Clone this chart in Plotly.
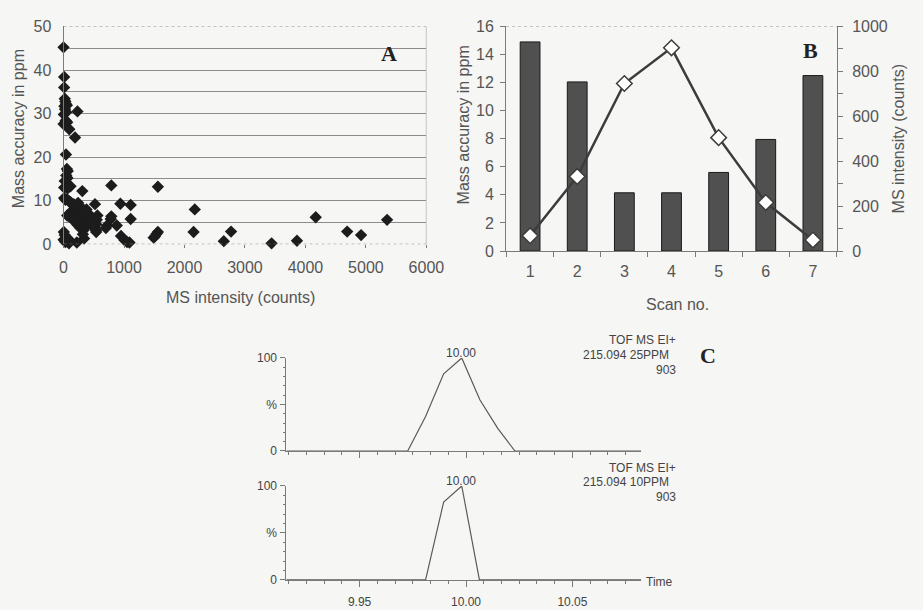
import plotly.graph_objects as go

W, H = 923, 610

# ---- Panel A: mass accuracy vs. MS intensity ----
intensity_counts = [
    0, 10, 10, 20, 30, 40, 15, 55, 25, 45, 5, 35, 60, 0, 230, 95, 190,
    40, 55, 70, 45, 65, 20, 10, 80, 115, 65, 310, 10, 30, 60, 90, 120, 170,
    790, 1560, 520, 940, 1110, 2170, 4170, 5350, 4690, 4920, 3860, 3440,
    2770, 2650, 2150, 1560, 1540, 1510, 1490, 1050, 1090, 1010, 950, 1110,
    880, 790, 780, 720, 700, 540, 540, 560, 550, 340, 320, 330, 220, 90,
    60, 40, 20, 5, 0, 110, 30,
    140, 220, 300, 380, 160, 200, 250, 280, 330, 360, 410, 450, 470, 230,
    270, 300, 180, 120, 90, 400, 500, 520, 260, 350, 150, 240, 200, 300,
    430, 60, 540, 480,
]
accuracy_ppm = [
    45.2, 38.4, 36.0, 33.4, 32.8, 32.2, 31.7, 31.9, 31.0, 30.3, 29.8, 28.4,
    28.0, 27.6, 30.5, 26.4, 24.5, 20.6, 17.3, 16.8, 15.8, 15.2, 14.5, 13.0,
    13.2, 13.3, 12.8, 12.2, 10.6, 10.2, 10.3, 9.9, 9.6, 9.2,
    13.5, 13.2, 9.2, 9.3, 9.0, 8.0, 6.2, 5.6, 2.9, 2.1, 0.8, 0.2,
    2.9, 0.7, 2.8, 2.8, 2.4, 1.8, 1.5, 0.5, 0.4, 0.9, 1.9, 5.8,
    4.3, 6.4, 5.8, 4.3, 3.7, 2.8, 4.6, 6.6, 5.6, 1.3, 2.3, 3.2, 0.4, 0.2,
    0.6, 1.4, 2.1, 2.8, 1.0, 0.8, 0.5,
    7.7, 8.1, 7.4, 8.0, 6.5, 5.9, 6.8, 5.5, 6.2, 5.3, 5.7, 6.0, 5.0, 4.5,
    3.8, 4.8, 5.2, 6.8, 6.4, 4.6, 5.4, 3.9, 7.2, 7.0, 9.0, 9.5, 8.6, 8.4,
    6.8, 6.6, 3.2, 4.0,
]

# ---- Panel B: per-scan accuracy and intensity ----
scan_no = ["1", "2", "3", "4", "5", "6", "7"]
scan_accuracy_ppm = [14.9, 12.05, 4.15, 4.15, 5.6, 7.95, 12.5]
scan_intensity_counts = [68, 332, 746, 905, 505, 216, 49]

# ---- Panel C: extracted-ion chromatograms ----
time_25ppm = [9.9156, 9.9726, 9.981, 9.9895, 9.998, 10.0065, 10.015, 10.023, 10.0823]
pct_25ppm = [0, 0, 37, 83, 100, 55, 24, 0, 0]
time_10ppm = [9.9156, 9.981, 9.9895, 9.998, 10.0063, 10.0823]
pct_10ppm = [0, 0, 83, 100, 0, 0]
trace_header = ["TOF MS EI+", "903"]
trace_mass = ["215.094 25PPM", "215.094 10PPM"]


def px(x):
    return x / W


def py(y):
    return 1 - y / H


GREY_TXT = "#555555"
AX = "#7a7a7a"
BG = "#f6f6f4"
SANS = "Liberation Sans, Arial, sans-serif"
SERIF = "Liberation Serif, Times New Roman, serif"

fig = go.Figure()

# A
fig.add_trace(go.Scatter(
    x=intensity_counts, y=accuracy_ppm, mode="markers",
    marker=dict(symbol="diamond", size=9.5, color="#1c1c1c"),
    xaxis="x", yaxis="y", cliponaxis=False, showlegend=False,
))

# B
fig.add_trace(go.Bar(
    x=scan_no, y=scan_accuracy_ppm, width=0.42,
    marker=dict(color="#505050", line=dict(color="#1a1a1a", width=1)),
    xaxis="x2", yaxis="y2", showlegend=False,
))
fig.add_trace(go.Scatter(
    x=scan_no, y=scan_intensity_counts, mode="lines+markers",
    line=dict(color="#3c3c3c", width=2.5),
    marker=dict(symbol="diamond", size=12, color="white",
                line=dict(color="#3c3c3c", width=1.5)),
    xaxis="x2", yaxis="y3", cliponaxis=False, showlegend=False,
))

# C
fig.add_trace(go.Scatter(
    x=time_25ppm, y=pct_25ppm, mode="lines",
    line=dict(color="#5a5a5a", width=1.2),
    xaxis="x4", yaxis="y4", showlegend=False,
))
fig.add_trace(go.Scatter(
    x=time_10ppm, y=pct_10ppm, mode="lines",
    line=dict(color="#5a5a5a", width=1.2),
    xaxis="x5", yaxis="y5", showlegend=False,
))

tickfont = dict(family=SANS, size=16, color=GREY_TXT)
smallfont = dict(family=SANS, size=12, color="#444444")

c_x = dict(
    range=[9.9156, 10.0823], tick0=9.95, dtick=0.05, ticks="outside",
    ticklen=6, tickcolor=AX, showline=True, linecolor=AX, linewidth=1,
    showgrid=False, zeroline=False, tickformat=".2f",
    minor=dict(dtick=0.05 / 6, tick0=9.95, ticks="outside", ticklen=3,
               tickcolor=AX),
    tickfont=smallfont,
)
c_y = dict(
    range=[0, 100], tickvals=[0, 50, 100], ticktext=["0", "%", "100"],
    ticks="outside", ticklen=5, tickcolor=AX, showline=True, linecolor=AX,
    linewidth=1, showgrid=False, zeroline=False,
    minor=dict(dtick=10, ticks="outside", ticklen=2, tickcolor=AX),
    tickfont=dict(family=SANS, size=12, color="#444444"),
    ticklabelstandoff=1,
)

fig.update_layout(
    width=W, height=H,
    margin=dict(l=0, r=0, t=0, b=0),
    paper_bgcolor=BG, plot_bgcolor=BG,
    bargap=0.5,
    xaxis=dict(
        domain=[px(61), px(432.7)], anchor="y", range=[0, 6000], dtick=1000,
        ticks="outside", ticklen=3, tickcolor=AX, showline=False,
        showgrid=False, zeroline=False, tickfont=tickfont,
        ticklabelstandoff=6,
    ),
    yaxis=dict(
        domain=[py(243), py(19)], anchor="x", range=[0, 50], dtick=10,
        showline=True, linecolor=AX, linewidth=1, ticks="",
        showgrid=True, gridcolor="#8c8c8c", gridwidth=1, zeroline=False,
        minor=dict(dtick=5, showgrid=True, gridcolor="#8c8c8c", gridwidth=1),
        tickfont=tickfont, ticklabelstandoff=8,
    ),
    xaxis2=dict(
        domain=[px(514.3), px(853.3)], anchor="y2", type="category",
        categoryorder="array", categoryarray=scan_no,
        ticks="outside", tickson="boundaries", ticklen=5, tickcolor=AX,
        showline=True, linecolor=AX, linewidth=1, showgrid=False,
        tickfont=tickfont, ticklabelstandoff=6,
    ),
    yaxis2=dict(
        domain=[py(250), py(19)], anchor="x2", range=[0, 16], dtick=2,
        ticks="outside", ticklen=5, tickcolor=AX, showline=True,
        linecolor=AX, linewidth=1, showgrid=False, zeroline=False,
        tickfont=tickfont, ticklabelstandoff=3,
    ),
    yaxis3=dict(
        overlaying="y2", side="right", anchor="x2", range=[0, 1000],
        dtick=200, ticks="outside", ticklen=5, tickcolor=AX, showline=True,
        linecolor=AX, linewidth=1, showgrid=False, zeroline=False,
        minor=dict(dtick=100, ticks="outside", ticklen=5, tickcolor=AX),
        tickfont=tickfont, ticklabelstandoff=6,
    ),
    xaxis4=dict(domain=[px(289.3), px(652.7)], anchor="y4",
                showticklabels=False, **c_x),
    yaxis4=dict(domain=[py(455.7), py(360)], anchor="x4", **c_y),
    xaxis5=dict(domain=[px(289.3), px(652.7)], anchor="y5",
                showticklabels=True, ticklabelstandoff=5, **c_x),
    yaxis5=dict(domain=[py(588.3), py(491.7)], anchor="x5", **c_y),
)

# plot-area frames (dotted top/bottom, solid right side)
dot = dict(color="#8c8c8c", width=1, dash="dot")
solid = dict(color="#8c8c8c", width=1)
shapes = [
    dict(type="line", xref="x", yref="y", x0=0, x1=6000, y0=50, y1=50, line=dot),
    dict(type="line", xref="x", yref="y", x0=0, x1=6000, y0=0, y1=0, line=dot),
    dict(type="line", xref="x", yref="y", x0=6000, x1=6000, y0=0, y1=50, line=solid),
    dict(type="line", xref="x2 domain", yref="y2", x0=0, x1=1, y0=16, y1=16, line=dot),
]
fig.update_layout(shapes=shapes)

ann = []


def label(text, x, y, size=16, color=GREY_TXT, family=SANS, angle=0,
          xanchor="center", yanchor="middle", bold=False):
    ann.append(dict(
        text=f"<b>{text}</b>" if bold else text, x=px(x), y=py(y),
        xref="paper", yref="paper", showarrow=False, textangle=angle,
        xanchor=xanchor, yanchor=yanchor,
        font=dict(family=family, size=size, color=color),
    ))


# axis titles
label("Mass accuracy in ppm", 15, 124, angle=-90)
label("MS intensity (counts)", 242, 298)
label("Mass accuracy in ppm", 471, 120, angle=-90)
label("MS intensity (counts)", 916, 135, angle=-90)
label("Scan no.", 690, 305)

# panel letters
label("A", 394.5, 47, size=22, color="#222222", family=SERIF, bold=True)
label("B", 826.5, 44, size=22, color="#222222", family=SERIF, bold=True)
label("C", 721, 357, size=22, color="#222222", family=SERIF, bold=True)

# chromatogram annotations
for t, p, ypk in [(time_25ppm, pct_25ppm, 355), (time_10ppm, pct_10ppm, 487)]:
    apex = t[p.index(max(p))]
    label(f"{apex:.2f}", 468.3, ypk, size=12, color="#444444")

for i, (y0, mass) in enumerate([(342, trace_mass[0]), (473, trace_mass[1])]):
    label(trace_header[0], 690.5, y0, size=12, color="#444444", xanchor="right")
    label(mass, 683, y0 + 15, size=12, color="#444444", xanchor="right")
    label(trace_header[1], 690.5, y0 + 30, size=12, color="#444444", xanchor="right")

label("Time", 671.5, 590.5, size=12, color="#444444")

fig.update_layout(annotations=ann)

fig.write_html("out.html")
